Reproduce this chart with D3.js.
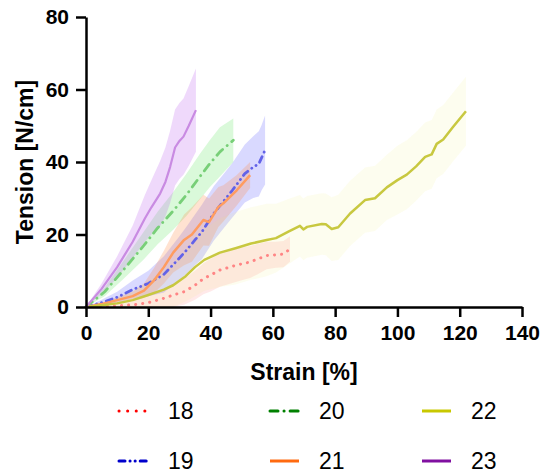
<!DOCTYPE html>
<html>
<head>
<meta charset="utf-8">
<script src="https://cdn.jsdelivr.net/npm/d3@7"></script>
<style>
  body { margin: 0; background: #fff; }
  text { font-family: "Liberation Sans", Arial, sans-serif; }
</style>
</head>
<body>
<svg id="chart" width="542" height="475"></svg>
<script>
// strain [%], mean tension [N/cm] and spread for each sample
var x18 = [0, 5, 10, 15, 20, 25, 28, 31.5, 35, 37.7, 40, 43, 47.3, 50, 52.7, 55, 58, 61, 63.4, 65.5];
var y18 = [0, 0.1, 0.3, 0.6, 1.2, 2.4, 3.3, 4.2, 6, 7.8, 8.8, 10.2, 11.3, 11.9, 12.4, 13.2, 14.2, 14.4, 14.6, 16];
var sd18 = [0, 0.3, 0.6, 1, 2, 2.8, 3.2, 3.6, 4, 4.3, 4.5, 4.6, 4.6, 4.5, 4.4, 4.2, 3.8, 3.6, 3.6, 3.5];

var x19 = [0, 5, 10, 15, 20, 25, 30, 32.3, 35, 37.2, 41, 44, 47, 51, 53.7, 55.5, 56.4, 57.5];
var y19 = [0, 1.2, 2.7, 4.8, 6.5, 9, 13.5, 15.7, 18.5, 20.7, 25.8, 29, 32.2, 36.8, 38.6, 39.5, 41.2, 43.3];
var sd19 = [0, 0.8, 1.5, 2.5, 3.5, 5, 6, 6.5, 7, 7.5, 7.5, 7.5, 7.5, 8, 8.5, 9, 9, 9.5];

var x20 = [0, 6, 12, 18.6, 23, 28, 32.3, 36.6, 39.8, 43, 47.3];
var y20 = [0, 4.2, 10.2, 17, 21.8, 26.5, 31, 36, 39.6, 42.8, 46];
var sd20 = [0, 1.2, 2.5, 3.8, 4.5, 5.2, 5.8, 6.3, 6.5, 6.8, 6];

var x21 = [0, 5, 10, 15, 18.6, 22, 25, 28, 31.5, 34, 37.7, 39.5, 42.5, 44.1, 48.4, 52.7];
var y21 = [0, 0.8, 1.9, 3, 4.5, 7.5, 11, 15, 18.5, 20, 24, 23.4, 27.6, 28.6, 32.2, 36.4];
var sd21 = [0, 0.4, 0.8, 1.2, 2, 3.5, 4.5, 5.5, 7, 7.5, 7, 6.5, 5.5, 5, 4.2, 3.6];

var x22 = [0, 5, 10, 15, 20, 25, 28, 32, 35, 38, 43, 48, 53, 58, 61, 65, 68.7, 69.8, 71, 75.7,
           77, 78.9, 81, 84.8, 89.6, 92.8, 96.6, 100, 103, 106, 108.9, 111, 112.6, 114.7, 117.9, 122];
var y22 = [0, 0.5, 1, 1.9, 3.3, 4.8, 6, 8.5, 11, 13, 15, 16.2, 17.5, 18.5, 19, 20.8, 22.4, 21.4, 22.1, 22.9,
           22.8, 21.5, 22, 25.8, 29.5, 30, 33, 35, 36.5, 38.8, 41.4, 42.1, 45, 46.2, 49.7, 54];
var sd22 = [0, 0.8, 1.5, 2.5, 4, 5, 6, 7, 8, 8.5, 9.5, 10, 10, 10, 9.5, 9, 8.5, 8.5, 8.5, 8.5,
            8.5, 8.8, 9, 9, 9, 9, 9, 9.5, 9.5, 9.5, 9.5, 9.5, 9.5, 9.5, 9.5, 9.5];

var x23 = [0, 5, 10, 15, 18.9, 21, 23.8, 25.5, 27, 28.6, 30, 31.3, 33, 35.3];
var y23 = [0, 5, 11, 18, 24.4, 27.5, 31.3, 34.5, 38.6, 44, 45.8, 47, 50, 54.3];
var sd23 = [0, 1.5, 3, 4.5, 6.5, 7.5, 9, 9.5, 10, 10.5, 10.5, 10.5, 11, 11.5];

var xTicks = [0, 20, 40, 60, 80, 100, 120, 140];
var yTicks = [0, 20, 40, 60, 80];

var series = [
  {name: '18', x: x18, y: y18, sd: sd18, line: '#ff8585', band: 'rgba(255,70,70,0.12)', key: '#ff0000', dash: '0.1,7', w: 3},
  {name: '19', x: x19, y: y19, sd: sd19, line: '#6262e8', band: 'rgba(80,80,255,0.22)', key: '#0000cc', dash: '6,5,0.1,5,0.1,5', w: 2.8},
  {name: '20', x: x20, y: y20, sd: sd20, line: '#78cf78', band: 'rgba(70,225,70,0.2)', key: '#008000', dash: '8,6,0.1,6', w: 2.8},
  {name: '21', x: x21, y: y21, sd: sd21, line: '#ff9c60', band: 'rgba(255,140,70,0.25)', key: '#ff6a10', dash: null, w: 2.5},
  {name: '22', x: x22, y: y22, sd: sd22, line: '#c8c840', band: 'rgba(240,240,110,0.11)', key: '#c8c800', dash: null, w: 2.5},
  {name: '23', x: x23, y: y23, sd: sd23, line: '#c98be2', band: 'rgba(195,110,240,0.26)', key: '#8010a0', dash: null, w: 2.2}
];

var svg = d3.select('#chart');

var x = d3.scaleLinear().domain([0, 140]).range([86, 522]);
var y = d3.scaleLinear().domain([0, 80]).range([307, 17]);

// shaded bands first, lines on top
series.forEach(function(s){
  var pts = s.x.map(function(v, i){ return {x: v, y: s.y[i], sd: s.sd[i]}; });
  s.pts = pts;
  svg.append('path')
    .datum(pts)
    .attr('fill', s.band)
    .attr('d', d3.area()
      .x(function(d){ return x(d.x); })
      .y0(function(d){ return y(Math.max(0, d.y - d.sd)); })
      .y1(function(d){ return y(d.y + d.sd); }));
});

series.forEach(function(s){
  svg.append('path')
    .datum(s.pts)
    .attr('fill', 'none')
    .attr('stroke', s.line)
    .attr('stroke-width', s.w)
    .attr('stroke-linecap', s.dash ? 'round' : 'butt')
    .attr('stroke-linejoin', 'round')
    .attr('stroke-dasharray', s.dash)
    .attr('d', d3.line()
      .x(function(d){ return x(d.x); })
      .y(function(d){ return y(d.y); }));
});

// axes
var xAxis = svg.append('g')
  .attr('transform', 'translate(0,307)')
  .call(d3.axisBottom(x).tickValues(xTicks).tickSize(10).tickPadding(8).tickSizeOuter(0));
var yAxis = svg.append('g')
  .attr('transform', 'translate(86,0)')
  .call(d3.axisLeft(y).tickValues(yTicks).tickSize(10).tickPadding(7).tickSizeOuter(0));

[xAxis, yAxis].forEach(function(g){
  g.selectAll('path, line').attr('stroke', '#000').attr('stroke-width', 2.5);
  g.selectAll('text')
    .attr('fill', '#000')
    .style('font-size', '21px')
    .style('font-weight', 'bold');
});

svg.append('text')
  .attr('transform', 'translate(33,162) rotate(-90)')
  .attr('text-anchor', 'middle')
  .style('font-size', '23px')
  .style('font-weight', 'bold')
  .text('Tension [N/cm]');

svg.append('text')
  .attr('x', 304)
  .attr('y', 380)
  .attr('text-anchor', 'middle')
  .style('font-size', '23px')
  .style('font-weight', 'bold')
  .text('Strain [%]');

// legend: 3 columns x 2 rows
var legendCols = [119, 270, 422];
var legendRows = [411, 461];
series.forEach(function(s, i){
  var cx = legendCols[Math.floor(i / 2)];
  var cy = legendRows[i % 2];
  svg.append('line')
    .attr('x1', cx).attr('x2', cx + 29)
    .attr('y1', cy).attr('y2', cy)
    .attr('stroke', s.key)
    .attr('stroke-width', 3)
    .attr('stroke-linecap', s.dash ? 'round' : 'butt')
    .attr('stroke-dasharray', s.dash === '0.1,7' ? '0.1,8.5' : s.dash);
  svg.append('text')
    .attr('x', cx + 49)
    .attr('y', cy + 8)
    .style('font-size', '23px')
    .text(s.name);
});
</script>
</body>
</html>
